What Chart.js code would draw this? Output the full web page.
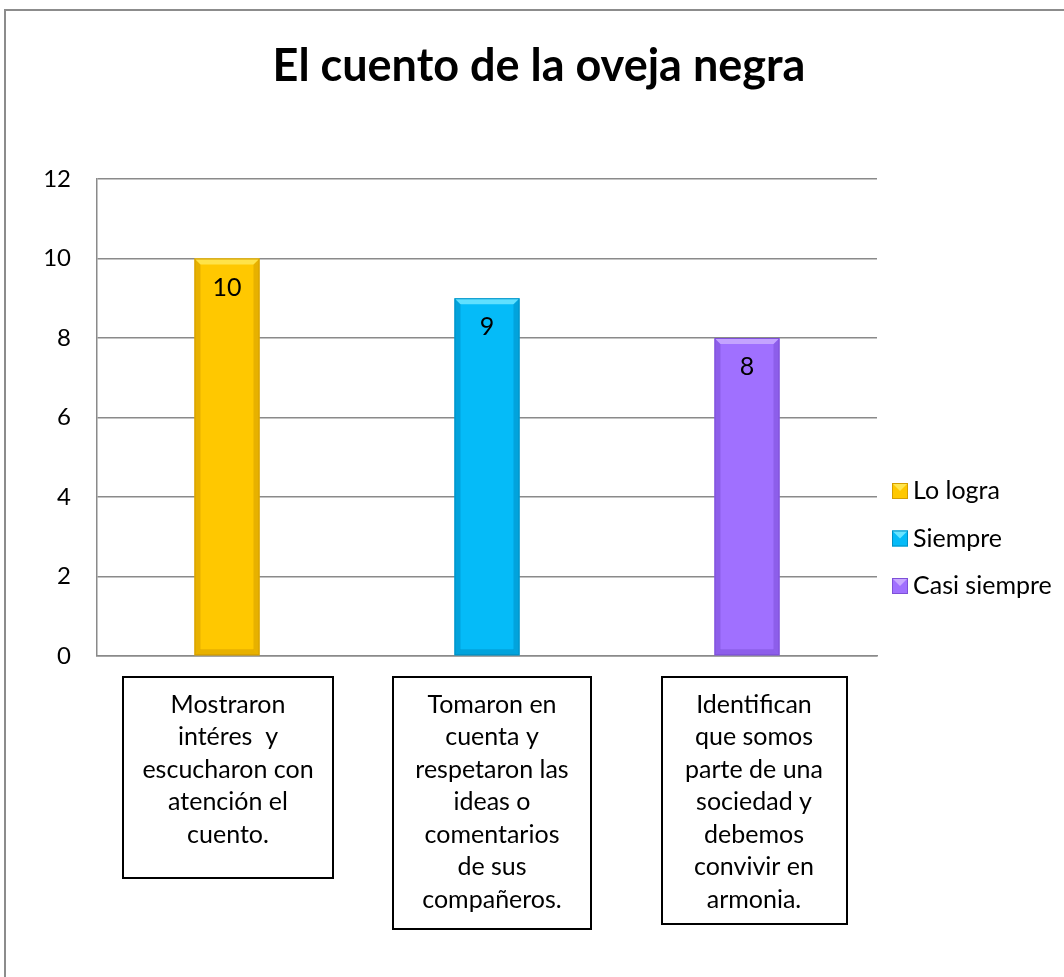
<!DOCTYPE html>
<html><head><meta charset="utf-8">
<script src="https://cdn.jsdelivr.net/npm/chart.js@4/dist/chart.umd.min.js"></script>
<style>html,body{margin:0;padding:0;background:#fff}#wrap{width:1064px;height:977px}</style>
</head><body><div id="wrap"><canvas id="c" width="1064" height="977"></canvas></div>
<script>
const chartTitle = 'El cuento de la oveja negra';
const categories = [
  ['Mostraron', 'intéres  y', 'escucharon con', 'atención el', 'cuento.'],
  ['Tomaron en', 'cuenta y', 'respetaron las', 'ideas o', 'comentarios', 'de sus', 'compañeros.'],
  ['Identifican', 'que somos', 'parte de una', 'sociedad y', 'debemos', 'convivir en', 'armonia.']
];
const seriesNames = ['Lo logra', 'Siempre', 'Casi siempre'];
const loLogra = [10, null, null];
const siempre = [null, 9, null];
const casiSiempre = [null, null, 8];
const yTicks = [0, 2, 4, 6, 8, 10, 12];

const FONT = 'Lato';
const fills = ['#FFC800', '#05BBF8', '#A070FF'];
const darks = ['#D49E00', '#0090C4', '#7E50D8'];
const lights = ['#FFE650', '#6AE4FF', '#C8A8FF'];

const framePlugin = {
  id: 'frame',
  beforeDraw(chart) {
    const ctx = chart.ctx;
    ctx.save();
    ctx.strokeStyle = '#8c8c8c';
    ctx.lineWidth = 2;
    ctx.beginPath();
    ctx.moveTo(5, 977); ctx.lineTo(5, 10); ctx.lineTo(1064, 10);
    ctx.stroke();
    ctx.restore();
  }
};

const barDecor = {
  id: 'barDecor',
  afterDatasetsDraw(chart) {
    const ctx = chart.ctx;
    ctx.save();
    chart.data.datasets.forEach((ds, di) => {
      const meta = chart.getDatasetMeta(di);
      meta.data.forEach((el, i) => {
        const v = ds.data[i];
        if (v === null || v === undefined) return;
        const p = el.getProps(['x', 'y', 'base', 'width'], true);
        const l = p.x - p.width / 2, r = p.x + p.width / 2, t = p.y, b = p.base, e = 6;
        ctx.globalAlpha = 0.55;
        ctx.fillStyle = darks[di];
        ctx.beginPath(); ctx.moveTo(l, t); ctx.lineTo(l + e, t + e); ctx.lineTo(l + e, b - e); ctx.lineTo(l, b); ctx.closePath(); ctx.fill();
        ctx.beginPath(); ctx.moveTo(r, t); ctx.lineTo(r - e, t + e); ctx.lineTo(r - e, b - e); ctx.lineTo(r, b); ctx.closePath(); ctx.fill();
        ctx.beginPath(); ctx.moveTo(l, b); ctx.lineTo(l + e, b - e); ctx.lineTo(r - e, b - e); ctx.lineTo(r, b); ctx.closePath(); ctx.fill();
        ctx.globalAlpha = 0.9;
        ctx.fillStyle = lights[di];
        ctx.beginPath(); ctx.moveTo(l, t); ctx.lineTo(r, t); ctx.lineTo(r - e, t + e); ctx.lineTo(l + e, t + e); ctx.closePath(); ctx.fill();
        ctx.globalAlpha = 1;
        ctx.strokeStyle = darks[di];
        ctx.lineWidth = 1;
        ctx.strokeRect(l + 0.5, t + 0.5, p.width - 1, b - t - 1);
        ctx.fillStyle = '#000';
        ctx.font = '25px ' + FONT;
        ctx.textAlign = 'center';
        ctx.textBaseline = 'middle';
        ctx.fillText(String(v), p.x, t + 29);
      });
    });
    ctx.restore();
  }
};

const labelBoxes = {
  id: 'labelBoxes',
  afterDraw(chart) {
    const ctx = chart.ctx;
    const xs = chart.scales.x;
    const dx = [1, 5, 7], w = [210, 198, 185], h = [201, 252, 247];
    const top = 677, lh = 32.5;
    ctx.save();
    chart.data.labels.forEach((lines, i) => {
      const cx = xs.getPixelForValue(i) + dx[i];
      ctx.strokeStyle = '#000';
      ctx.lineWidth = 2;
      ctx.strokeRect(Math.round(cx - w[i] / 2), top, w[i], h[i]);
      ctx.fillStyle = '#000';
      ctx.font = '25px ' + FONT;
      ctx.textAlign = 'center';
      ctx.textBaseline = 'middle';
      lines.forEach((ln, k) => ctx.fillText(ln, cx, top + 27.5 + k * lh));
    });
    // legend
    const ly0 = 491, lstep = 47.5;
    chart.data.datasets.forEach((ds, di) => {
      const y = ly0 + di * lstep;
      ctx.fillStyle = fills[di];
      ctx.fillRect(892, y - 8, 16, 16);
      ctx.fillStyle = lights[di];
      ctx.beginPath(); ctx.moveTo(892, y - 8); ctx.lineTo(908, y - 8); ctx.lineTo(900, y); ctx.closePath(); ctx.fill();
      ctx.strokeStyle = darks[di];
      ctx.lineWidth = 1;
      ctx.strokeRect(892.5, y - 7.5, 15, 15);
      ctx.fillStyle = '#000';
      ctx.font = '25px ' + FONT;
      ctx.textAlign = 'left';
      ctx.textBaseline = 'middle';
      ctx.fillText(ds.label, 913, y);
    });
    ctx.restore();
  }
};

new Chart(document.getElementById('c'), {
  type: 'bar',
  data: {
    labels: categories,
    datasets: [
      { label: seriesNames[0], data: loLogra, backgroundColor: fills[0] },
      { label: seriesNames[1], data: siempre, backgroundColor: fills[1] },
      { label: seriesNames[2], data: casiSiempre, backgroundColor: fills[2] }
    ]
  },
  options: {
    responsive: false,
    animation: false,
    layout: { padding: { left: 14, right: 0, top: 10, bottom: 0 } },
    datasets: { bar: { skipNull: true, categoryPercentage: 0.25, barPercentage: 1 } },
    plugins: {
      legend: { display: false },
      tooltip: { enabled: false },
      title: {
        display: true, text: chartTitle, color: '#000',
        font: { family: FONT, size: 45, weight: 'bold', lineHeight: 1.2 },
        padding: { top: 29, bottom: 86 }
      }
    },
    scales: {
      x: {
        grid: { display: false, drawTicks: false },
        border: { display: true, color: '#8a8a8a', width: 1.5 },
        ticks: { display: false },
        afterFit(s) { s.height = 321; }
      },
      y: {
        min: 0, max: 12,
        afterBuildTicks(s) { s.ticks = yTicks.map(v => ({ value: v })); },
        ticks: { padding: 26, color: '#000', font: { family: FONT, size: 24 } },
        grid: { color: '#8a8a8a', lineWidth: 1.5, drawTicks: false },
        border: { display: true, color: '#8a8a8a', width: 1.5 },
        afterFit(s) { s.width = 83; }
      },
      yR: {
        type: 'linear', axis: 'y', position: 'right', display: true,
        grid: { display: false, drawTicks: false },
        border: { display: false },
        ticks: { display: false },
        afterFit(s) { s.width = 187; }
      }
    }
  },
  plugins: [framePlugin, barDecor, labelBoxes]
});
</script>
</body></html>
